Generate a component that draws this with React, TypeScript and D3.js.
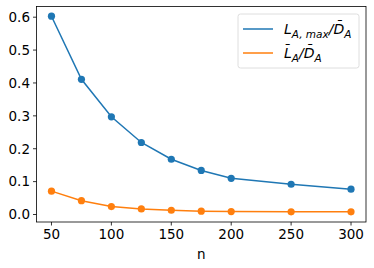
import { useEffect, useRef } from 'react'
import * as d3 from 'd3'

const N = [50, 75, 100, 125, 150, 175, 200, 250, 300]
const L_MAX = [0.603, 0.411, 0.297, 0.219, 0.168, 0.134, 0.110, 0.092, 0.077]
const L_MEAN = [0.071, 0.042, 0.024, 0.017, 0.013, 0.010, 0.009, 0.008, 0.008]
const X_TICKS = [50, 100, 150, 200, 250, 300]
const Y_TICKS = [0, 0.1, 0.2, 0.3, 0.4, 0.5, 0.6]
const SERIES = [
  { name: 'max', values: L_MAX, color: '#1f77b4' },
  { name: 'mean', values: L_MEAN, color: '#ff7f0e' },
]

export default function App() {
  const ref = useRef<SVGSVGElement>(null)
  useEffect(() => {
    if (!ref.current) return
    const W = 374, H = 268
    const m = { l: 36.5, r: 8, t: 6.5, b: 46 }
    const svg = d3.select(ref.current)
    svg.selectAll('*').remove()
    const font = 'DejaVu Sans, sans-serif'
    const x = d3.scaleLinear().domain([37.5, 312.5]).range([m.l, W - m.r])
    const y = d3.scaleLinear().domain([-0.0228, 0.6325]).range([H - m.b, m.t])

    const g = svg.append('g')
    // ticks
    X_TICKS.forEach(t => {
      g.append('line').attr('x1', x(t)).attr('x2', x(t)).attr('y1', H - m.b).attr('y2', H - m.b + 3.5).attr('stroke', '#000').attr('stroke-width', 0.8)
      g.append('text').attr('x', x(t)).attr('y', H - m.b + 17).attr('text-anchor', 'middle').style('font-family', font).style('font-size', '13.5px').text(String(t))
    })
    Y_TICKS.forEach(t => {
      g.append('line').attr('x1', m.l - 3.5).attr('x2', m.l).attr('y1', y(t)).attr('y2', y(t)).attr('stroke', '#000').attr('stroke-width', 0.8)
      g.append('text').attr('x', m.l - 6.5).attr('y', y(t)).attr('dy', '0.36em').attr('text-anchor', 'end').style('font-family', font).style('font-size', '13.5px').text(d3.format('.1f')(t))
    })
    g.append('text').attr('x', (m.l + W - m.r) / 2).attr('y', H - 9).attr('text-anchor', 'middle').style('font-family', font).style('font-size', '13.5px').text('n')

    const line = d3.line<number>().x((_, i) => x(N[i])).y(d => y(d))
    SERIES.forEach(s => {
      g.append('path').attr('d', line(s.values)).attr('fill', 'none').attr('stroke', s.color).attr('stroke-width', 1.5)
      g.selectAll(null).data(s.values).join('circle').attr('cx', (_, i) => x(N[i])).attr('cy', d => y(d)).attr('r', 3.6).attr('fill', s.color)
    })

    g.append('rect').attr('x', m.l).attr('y', m.t).attr('width', W - m.r - m.l).attr('height', H - m.b - m.t).attr('fill', 'none').attr('stroke', '#000').attr('stroke-width', 0.8)

    // legend
    const lg = g.append('g')
    lg.append('rect').attr('x', 238).attr('y', 14).attr('width', 121).attr('height', 54).attr('rx', 2.5).attr('fill', '#fff').attr('fill-opacity', 0.8).attr('stroke', '#d6d6d6').attr('stroke-width', 0.8)
    const rows = [
      { color: SERIES[0].color, y: 29 },
      { color: SERIES[1].color, y: 53 },
    ]
    rows.forEach(r => {
      lg.append('line').attr('x1', 243).attr('x2', 273).attr('y1', r.y).attr('y2', r.y).attr('stroke', r.color).attr('stroke-width', 1.5)
    })
    const sub = '10.5px'
    const t1 = lg.append('text').attr('x', 284).attr('y', 34).style('font-family', font).style('font-size', '14px').style('font-style', 'italic')
    t1.append('tspan').text('L')
    t1.append('tspan').attr('dy', 3.5).style('font-size', sub).text('A, max')
    t1.append('tspan').attr('dy', -3.5).text('/D\u0304')
    t1.append('tspan').attr('dy', 3.5).style('font-size', sub).text('A')
    const t2 = lg.append('text').attr('x', 284).attr('y', 58).style('font-family', font).style('font-size', '14px').style('font-style', 'italic')
    t2.append('tspan').text('L\u0304')
    t2.append('tspan').attr('dy', 3.5).style('font-size', sub).text('A')
    t2.append('tspan').attr('dy', -3.5).text('/D\u0304')
    t2.append('tspan').attr('dy', 3.5).style('font-size', sub).text('A')
  }, [])
  return (
    <div style={{ position: 'absolute', left: 0, top: 0 }}>
      <svg ref={ref} width={374} height={268} style={{ display: 'block', background: '#fff' }} />
    </div>
  )
}
